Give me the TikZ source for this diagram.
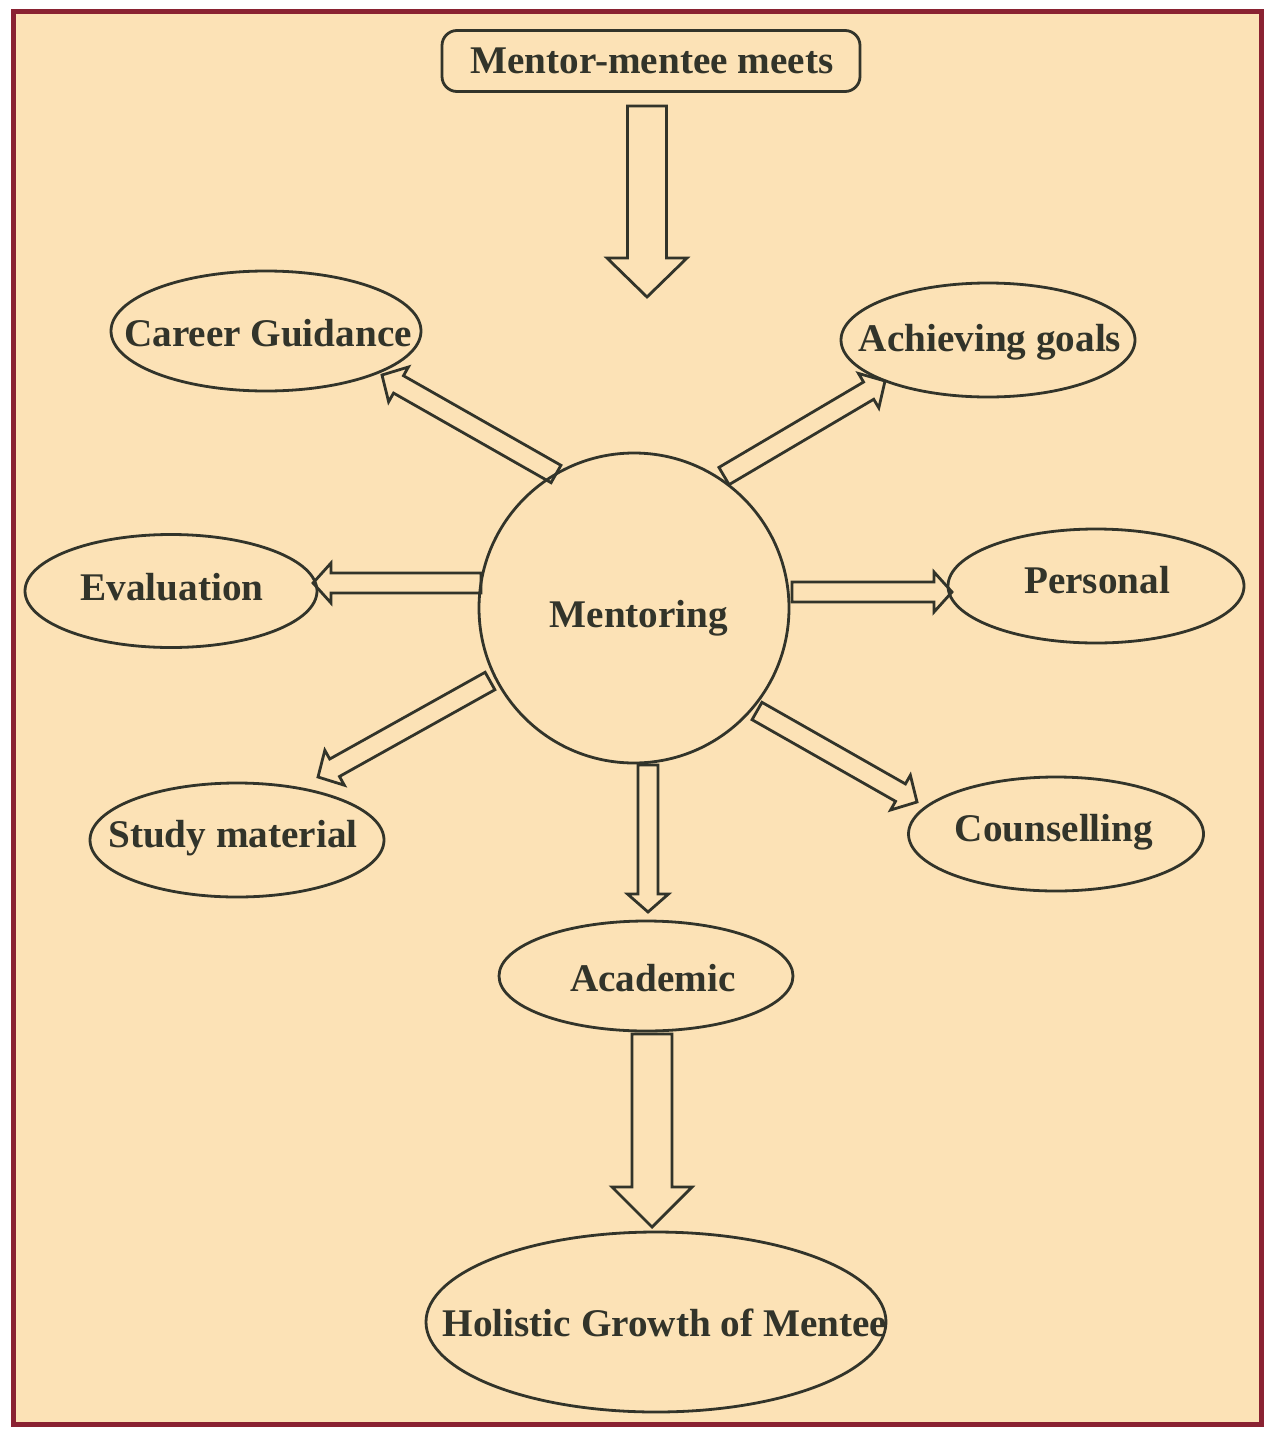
\documentclass[tikz,border=0pt]{standalone}
\usepackage{fontspec}
\setmainfont{Liberation Serif}
\usetikzlibrary{shapes.geometric,calc}
\definecolor{parch}{RGB}{252,226,182}
\definecolor{frameRed}{RGB}{138,34,50}
\definecolor{ink}{RGB}{50,52,42}
\newcommand\blockarrow[5]{%
  \coordinate (ba-h) at ($(#2)!#5!(#1)$);
  \draw[barrow] ($(#1)!#3!90:(#2)$) -- ($(ba-h)!#3!90:(#2)$) -- ($(ba-h)!#4!90:(#2)$) -- (#2)
    -- ($(ba-h)!#4!-90:(#2)$) -- ($(ba-h)!#3!-90:(#2)$) -- ($(#1)!#3!-90:(#2)$) -- cycle;
}
\begin{document}
\begin{tikzpicture}[x=1pt,y=-1pt,
  oval/.style={draw=ink, line width=2.8pt, ellipse, inner sep=0pt},
  txt/.style={text=ink, font=\fontsize{39.2}{45}\selectfont\bfseries, inner sep=0pt},
  barrow/.style={draw=ink, line width=2.8pt, line join=miter}]
\useasboundingbox (0,0) rectangle (1267,1429);
\fill[white] (0,0) rectangle (1267,1429);
\draw[frameRed, fill=parch, line width=5pt] (13,12) rectangle (1261,1424);

% top box
\node[draw=ink, line width=2.8pt, rounded corners=15pt, minimum width=418pt, minimum height=61pt, inner sep=0pt] (meets) at (651,61) {};
\node[txt] (meets-t) at (652,61) {Mentor-mentee meets};

% central circle
\node[draw=ink, line width=2.8pt, circle, minimum size=310pt, inner sep=0pt] (mentoring) at (634,608) {};
\node[txt] (mentoring-t) at (639,618) {Mentoring};

% ellipses
\node[oval, minimum width=310pt, minimum height=120pt] (career) at (266,331) {};
\node[txt] (career-t) at (268,333) {Career Guidance};
\node[oval, minimum width=294pt, minimum height=114pt] (achieve) at (988,340) {};
\node[txt] (achieve-t) at (990,342) {Achieving goals};
\node[oval, minimum width=292pt, minimum height=113pt] (eval) at (171,591) {};
\node[txt] (eval-t) at (172,587) {Evaluation};
\node[oval, minimum width=296pt, minimum height=114pt] (personal) at (1096,586) {};
\node[txt] (personal-t) at (1097,580) {Personal};
\node[oval, minimum width=294pt, minimum height=114pt] (study) at (237,840) {};
\node[txt] (study-t) at (233,838) {Study material};
\node[oval, minimum width=295pt, minimum height=114pt] (counsel) at (1056,834) {};
\node[txt] (counsel-t) at (1054,832) {Counselling};
\node[oval, minimum width=294pt, minimum height=110pt] (academic) at (646,976) {};
\node[txt] (academic-t) at (653,978) {Academic};
\node[oval, minimum width=460pt, minimum height=180pt] (holistic) at (656,1322) {};
\node[txt] (holistic-t) at (665,1323) {Holistic Growth of Mentee};

% arrow end points
\coordinate (a1s) at (647,106);  \coordinate (a1e) at (647,297);
\coordinate (cgs) at (556,474);  \coordinate (cge) at (382,375);
\coordinate (ags) at (724,476);  \coordinate (age) at (885,381);
\coordinate (evs) at (481,583);  \coordinate (eve) at (313,583);
\coordinate (pes) at (792,592);  \coordinate (pee) at (952,592);
\coordinate (sms) at (490,681);  \coordinate (sme) at (318,777);
\coordinate (cos) at (757,711);  \coordinate (coe) at (917,802);
\coordinate (acs) at (648,765);  \coordinate (ace) at (648,912);
\coordinate (hos) at (652,1034); \coordinate (hoe) at (652,1227);

\blockarrow{a1s}{a1e}{19.5pt}{40pt}{39pt}
\blockarrow{cgs}{cge}{10pt}{20pt}{19pt}
\blockarrow{ags}{age}{10pt}{20pt}{19pt}
\blockarrow{evs}{eve}{10pt}{20pt}{18pt}
\blockarrow{pes}{pee}{10pt}{20pt}{18pt}
\blockarrow{sms}{sme}{10pt}{20pt}{19pt}
\blockarrow{cos}{coe}{10pt}{20pt}{19pt}
\blockarrow{acs}{ace}{10pt}{20.5pt}{18pt}
\blockarrow{hos}{hoe}{20pt}{40pt}{40pt}
\end{tikzpicture}
\end{document}
